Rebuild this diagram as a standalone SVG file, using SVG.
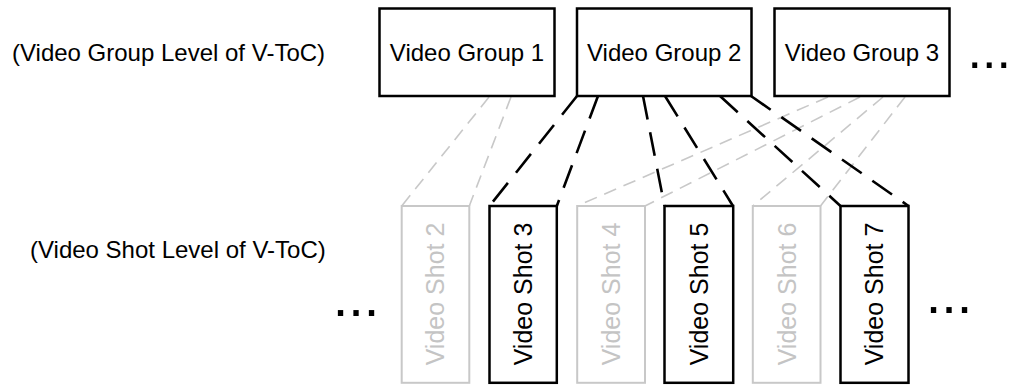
<svg xmlns="http://www.w3.org/2000/svg" width="1012" height="385" viewBox="0 0 1012 385">
<style>
text{font-family:"Liberation Sans",Arial,sans-serif;font-size:24px}
.g rect{fill:#fff;stroke:#000;stroke-width:2.5}
.s rect{fill:#fff;stroke:#000;stroke-width:2.5}
.s text{font-size:25px}
.s.light rect{stroke:#c8c8c8;stroke-width:2}
.s.light text{fill:#c4c4c4}
.dots{font-size:52px}
.dots.low{font-size:56px}
.conn line{fill:none}
.bk{stroke:#000;stroke-width:2.6;stroke-dasharray:24 13}
.gy{stroke:#c8c8c8;stroke-width:1.6;stroke-dasharray:13 8}
</style>
<rect width="1012" height="385" fill="#fff"/>
<text id="lbl-group" x="12" y="61">(Video Group Level of V-ToC)</text>
<text id="lbl-shot" x="30" y="258">(Video Shot Level of V-ToC)</text>
<g id="connectors" class="conn">
<line class="gy" x1="489" y1="97" x2="401.7" y2="206"/>
<line class="gy" x1="511" y1="97" x2="469.3" y2="206"/>
<line class="gy" x1="828" y1="97" x2="577" y2="206"/>
<line class="gy" x1="860" y1="97" x2="645" y2="206"/>
<line class="gy" x1="883" y1="97" x2="752.8" y2="206"/>
<line class="gy" x1="905" y1="97" x2="820.5" y2="206"/>
<line class="bk" x1="577" y1="96" x2="489.5" y2="206"/>
<line class="bk" x1="598" y1="96" x2="556.8" y2="206"/>
<line class="bk" x1="643" y1="96" x2="664.5" y2="206"/>
<line class="bk" x1="665" y1="96" x2="733" y2="206"/>
<line class="bk" x1="720" y1="96" x2="840.5" y2="206"/>
<line class="bk" x1="751" y1="96" x2="908.5" y2="206"/>
</g>
<g id="group1" class="g"><rect x="379.5" y="8.5" width="175" height="87.5"/><text x="467" y="61" text-anchor="middle">Video Group 1</text></g>
<g id="group2" class="g"><rect x="577" y="8.5" width="174.5" height="87.5"/><text x="664.2" y="61" text-anchor="middle">Video Group 2</text></g>
<g id="group3" class="g"><rect x="774.5" y="8.5" width="175" height="87.5"/><text x="862" y="61" text-anchor="middle">Video Group 3</text></g>
<text id="dots-top" class="dots" x="967.5" y="68">...</text>
<g id="shot2" class="s light"><rect x="401.7" y="206" width="67.6" height="176.8"/><text transform="translate(444.3,294) rotate(-90)" text-anchor="middle">Video Shot 2</text></g>
<g id="shot3" class="s"><rect x="489.5" y="206" width="67.3" height="176.8"/><text transform="translate(532,294) rotate(-90)" text-anchor="middle">Video Shot 3</text></g>
<g id="shot4" class="s light"><rect x="577.2" y="206" width="67.8" height="176.8"/><text transform="translate(620,294) rotate(-90)" text-anchor="middle">Video Shot 4</text></g>
<g id="shot5" class="s"><rect x="664.5" y="206" width="68.7" height="176.8"/><text transform="translate(707.8,294) rotate(-90)" text-anchor="middle">Video Shot 5</text></g>
<g id="shot6" class="s light"><rect x="752.8" y="206" width="67.7" height="176.8"/><text transform="translate(795.6,294) rotate(-90)" text-anchor="middle">Video Shot 6</text></g>
<g id="shot7" class="s"><rect x="840.5" y="206" width="68" height="176.8"/><text transform="translate(883.4,294) rotate(-90)" text-anchor="middle">Video Shot 7</text></g>
<text id="dots-left" class="dots low" x="332.7" y="316">...</text>
<text id="dots-right" class="dots low" x="925.7" y="313">...</text>
</svg>
